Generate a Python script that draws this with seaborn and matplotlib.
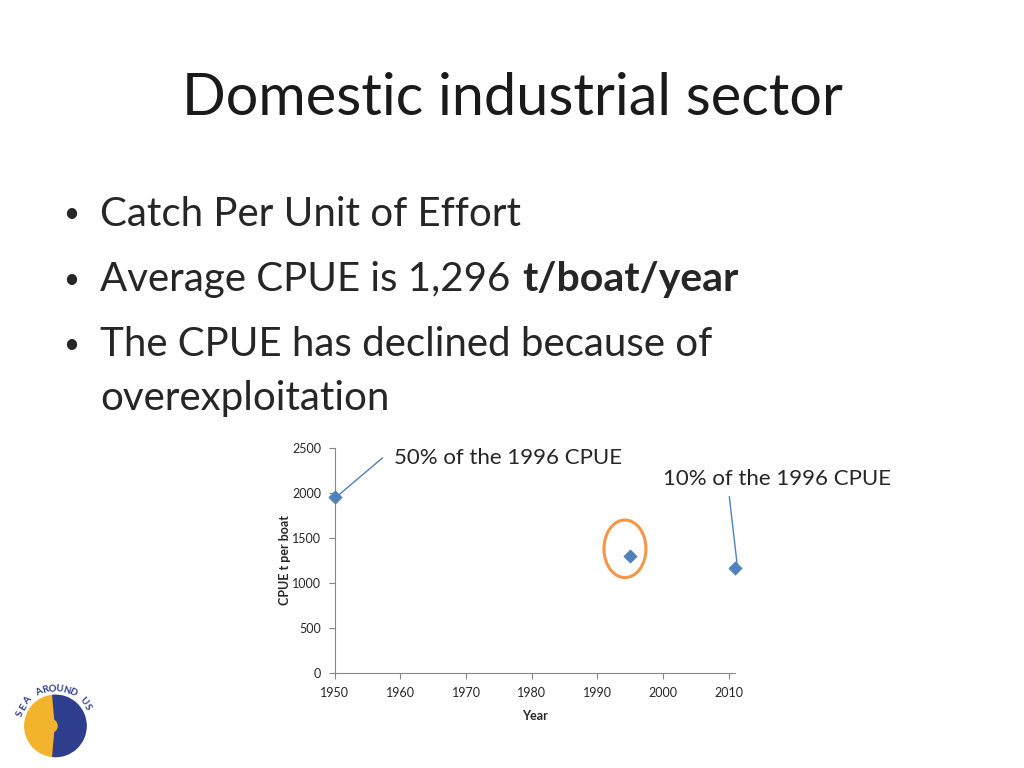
import seaborn as sns
import numpy as np
import pandas as pd
import matplotlib.pyplot as plt
from matplotlib.patches import Ellipse, Wedge, Circle

years = [1950, 1995, 2011]
cpue = [1950, 1296, 1165]
x_ticks = [1950, 1960, 1970, 1980, 1990, 2000, 2010]
y_ticks = [0, 500, 1000, 1500, 2000, 2500]

title = 'Domestic industrial sector'
bullets = ['Catch Per Unit of Effort', 'Average CPUE is 1,296', 'The CPUE has declined because of', 'overexploitation']

sns.set_style('white')
plt.rcParams['font.family'] = ['Lato', 'DejaVu Sans']

fig = plt.figure(figsize=(10.24, 7.68), dpi=100)

# slide text
fig.text(0.5, 0.872, title, ha='center', va='center', fontsize=41.5, color='#1a1a1a')
fs = 29
for yy in [0.721, 0.636, 0.551]:
    fig.text(0.062, yy, '\u2022', fontsize=20, va='center')
fig.text(0.098, 0.721, bullets[0], fontsize=fs, va='center')
t = fig.text(0.098, 0.636, bullets[1], fontsize=fs, va='center')
fig.text(0.098, 0.551, bullets[2], fontsize=fs, va='center')
fig.text(0.098, 0.481, bullets[3], fontsize=fs, va='center')

# chart
ax = fig.add_axes([0.327, 0.1237, 0.391, 0.293])
ax.annotate('t/boat/year', xy=(1, 0.5), xycoords=t, xytext=(8, 0), textcoords='offset points',
            fontsize=fs + 0.5, fontweight='bold', va='center', ha='left', annotation_clip=False)

df = pd.DataFrame({'Year': years, 'CPUE': cpue})
sns.scatterplot(data=df, x='Year', y='CPUE', marker='D', s=45, color='#4f81bd',
                edgecolor='#4f81bd', ax=ax, zorder=5, clip_on=False)
ax.set_xlim(1950, 2011)
ax.set_ylim(0, 2500)
ax.set_xticks(x_ticks)
ax.set_yticks(y_ticks)
ax.tick_params(labelsize=9, length=4, color='#868686', direction='out',
               bottom=True, left=True, pad=6)
for s in ['top', 'right']:
    ax.spines[s].set_visible(False)
for s in ['left', 'bottom']:
    ax.spines[s].set_color('#868686')
ax.set_xlabel('Year', fontsize=9, fontweight='bold', labelpad=8)
ax.set_ylabel('CPUE t per boat', fontsize=9, fontweight='bold', labelpad=1)

ax.add_patch(Ellipse((1994.2, 1380), 6.4, 640, fill=False, edgecolor='#f79646',
                     linewidth=2.2, clip_on=False))

ax.annotate('50% of the 1996 CPUE', xy=(1950.3, 1960), xytext=(1959, 2390),
            fontsize=16, va='center', ha='left',
            arrowprops=dict(arrowstyle='-', color='#4f81bd', lw=1, shrinkA=0, shrinkB=0,
                            relpos=(-0.05, 0.5)),
            annotation_clip=False)
ax.annotate('10% of the 1996 CPUE', xy=(2011.4, 1190), xytext=(2000, 2160),
            fontsize=16, va='center', ha='left', annotation_clip=False)
ax.plot([2010.1, 2011.3], [1960, 1200], color='#4f81bd', lw=1, clip_on=False)

# logo
lax = fig.add_axes([0.01, 0.012, 0.082, 0.115])
lax.set_xlim(-1.3, 1.3)
lax.set_ylim(-1.3, 1.4)
lax.set_aspect('equal')
lax.axis('off')
lax.add_patch(Wedge((0.1, -0.3), 0.95, 95, 265, color='#f2b42c'))
lax.add_patch(Wedge((0.1, -0.3), 0.95, 265, 95, color='#2e3e8c'))
lax.add_patch(Circle((-0.05, -0.3), 0.2, color='#f2b42c'))
arc = 'SEA AROUND US'
for i, ch in enumerate(arc):
    ang = np.deg2rad(160 - i * 130 / (len(arc) - 1))
    lax.text(0.1 + 1.15 * np.cos(ang), -0.3 + 1.15 * np.sin(ang), ch, fontsize=7,
             fontweight='bold', color='#2e3e8c', ha='center', va='center',
             rotation=np.rad2deg(ang) - 90)

fig.savefig('out.png', dpi=100)
